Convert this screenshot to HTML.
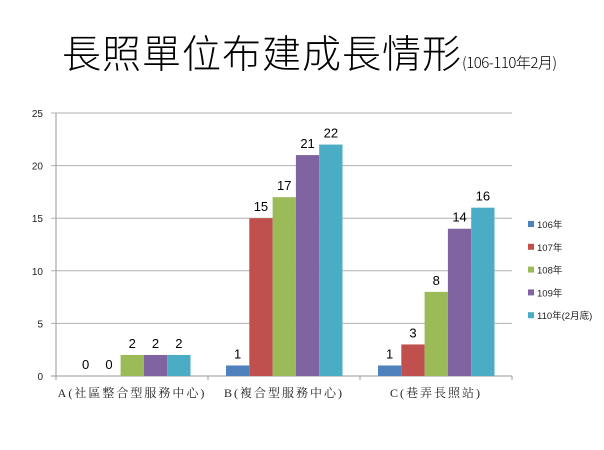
<!DOCTYPE html>
<html><head><meta charset="utf-8"><style>
body{margin:0;background:#fff;width:604px;height:450px;overflow:hidden;font-family:"Liberation Sans","Noto Sans CJK TC",sans-serif}
#title{position:absolute;left:62px;top:24px;font-size:39px;color:#000;white-space:nowrap;font-family:"Noto Sans CJK TC",sans-serif;font-weight:300;letter-spacing:1px}
#title span{font-size:15px;letter-spacing:-0.5px}
</style></head><body>
<div id="title">長照單位布建成長情形<span>(106-110年2月)</span></div>
<svg id="chart" width="604" height="450" style="position:absolute;left:0;top:0"></svg>
<script>
const categories=["A(社區整合型服務中心)","B(複合型服務中心)","C(巷弄長照站)"];
const seriesNames=["106年","107年","108年","109年","110年(2月底)"];
const s106=[0,1,1];
const s107=[0,15,3];
const s108=[2,17,8];
const s109=[2,21,14];
const s110=[2,22,16];
const yTicks=[0,5,10,15,20,25];
const series=[s106,s107,s108,s109,s110];
const colors=["#4f81bd","#c0504d","#9bbb59","#8064a2","#4bacc6"];
const svg=document.getElementById('chart');const NS="http://www.w3.org/2000/svg";
const L=56,R=512,T=113,B=376,yMax=25;
const y=v=>B-(v/yMax)*(B-T);
const gw=(R-L)/categories.length,bw=23.3,off=18;
function mk(t,a,p){const e=document.createElementNS(NS,t);for(const k in a)e.setAttribute(k,a[k]);(p||svg).appendChild(e);return e;}
yTicks.forEach(v=>{
 const g=mk('line',{x1:L-5,x2:R,y1:y(v),y2:y(v),stroke:v===0?'#999':'#b0b0b0','stroke-width':1});
 
 
 const t=mk('text',{x:L-13,y:y(v)+4,'text-anchor':'end','font-size':10,fill:'#222'});t.textContent=v;
 
 
});
const ax=mk('line',{x1:L,x2:L,y1:T,y2:B+4,stroke:'#999'});


categories.forEach((c,i)=>{
 const gx=L+i*gw;
 const tk=mk('line',{x1:gx+gw,x2:gx+gw,y1:B,y2:B+4,stroke:'#999'});
 
 
 series.forEach((s,j)=>{
  const x=gx+off+j*bw,v=s[i];
  if(v>0){const r=mk('rect',{x:x,y:y(v),width:bw,height:B-y(v),fill:colors[j]});
  
  }
  const t=mk('text',{x:x+bw/2,y:y(v)-7,'text-anchor':'middle','font-size':13,fill:'#000'});t.textContent=v;
  
  
 });
 const lt=mk('text',{x:gx+gw/2,y:B+21,'text-anchor':'middle','font-size':12,fill:'#222','font-family':'"Liberation Serif","Noto Serif CJK SC",serif','letter-spacing':'2'});lt.textContent=c;
 
 
});
seriesNames.forEach((n,j)=>{
 const yy=224+j*22.8;
 const r=mk('rect',{x:528,y:yy-3,width:6,height:6,fill:colors[j]});
 
 
 const t=mk('text',{x:537,y:yy+4,'font-size':9.5,fill:'#222'});t.textContent=n;
 
 
});
</script>
</body></html>
